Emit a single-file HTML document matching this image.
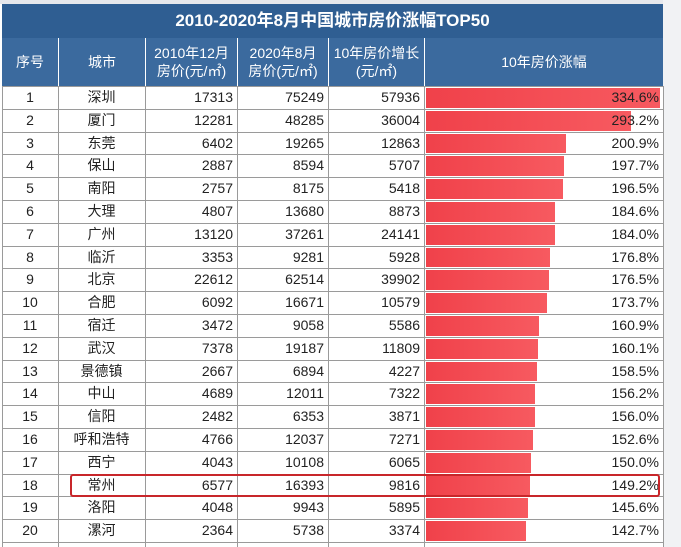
<!DOCTYPE html>
<html><head><meta charset="utf-8"><style>
body{margin:0;width:681px;height:547px;overflow:hidden;background:#fff;font-family:"Liberation Sans","Noto Sans CJK SC",sans-serif;position:relative}
.a{position:absolute;box-sizing:border-box}
.t{position:absolute;font-size:14px;color:#222;line-height:22px;white-space:nowrap}
</style></head><body>
<div class="a" style="left:0;top:0;width:681px;height:4px;background:#e6e8ec"></div>
<div class="a" style="left:663px;top:0;width:18px;height:547px;background:#f1f2f4"></div>
<div class="a" style="left:2px;top:4px;width:661px;height:34px;background:#2f5e92;color:#fff;font-size:17px;font-weight:bold;text-align:center;line-height:34px">2010-2020年8月中国城市房价涨幅TOP50</div>
<div id="hdr" class="a" style="left:2px;top:38px;width:661px;height:48px;background:#3b6a9e"></div>
<script>
const ranks=[1,2,3,4,5,6,7,8,9,10,11,12,13,14,15,16,17,18,19,20];
const cities=["深圳","厦门","东莞","保山","南阳","大理","广州","临沂","北京","合肥","宿迁","武汉","景德镇","中山","信阳","呼和浩特","西宁","常州","洛阳","漯河"];
const price2010=[17313,12281,6402,2887,2757,4807,13120,3353,22612,6092,3472,7378,2667,4689,2482,4766,4043,6577,4048,2364];
const price2020=[75249,48285,19265,8594,8175,13680,37261,9281,62514,16671,9058,19187,6894,12011,6353,12037,10108,16393,9943,5738];
const growth=[57936,36004,12863,5707,5418,8873,24141,5928,39902,10579,5586,11809,4227,7322,3871,7271,6065,9816,5895,3374];
const pct=[334.6,293.2,200.9,197.7,196.5,184.6,184.0,176.8,176.5,173.7,160.9,160.1,158.5,156.2,156.0,152.6,150.0,149.2,145.6,142.7];
const headers=["序号","城市","2010年12月<br>房价(元/㎡)","2020年8月<br>房价(元/㎡)","10年房价增长<br>(元/㎡)","10年房价涨幅"];
const cols=[2,58,145,237,328,424,663];
const top0=86,rh=22.8,barX=426,barMax=234,maxPct=334.6;
headers.forEach((h,i)=>{const d=document.createElement('div');d.className='a';


d.style.cssText=`left:${cols[i]}px;top:38px;width:${cols[i+1]-cols[i]}px;height:48px;color:#fff;font-size:14px;text-align:center;display:flex;align-items:center;justify-content:center;line-height:18px;${i>0?'border-left:1px solid #fff;':''}`;
d.innerHTML=h;document.body.appendChild(d);});
function add(cls,css,txt,name){const d=document.createElement('div');d.className=cls;d.style.cssText=css;if(txt!==undefined)d.textContent=txt;


document.body.appendChild(d);return d;}
for(let r=0;r<=20;r++){add('a',`left:2px;top:${top0+r*rh}px;width:661px;height:1px;background:#9a9a9a`,undefined,'row-line');}
for(let i=0;i<cols.length;i++){add('a',`left:${cols[i]}px;top:86px;width:1px;height:461px;background:#9a9a9a`,undefined,'col-line');}
ranks.forEach((rk,r)=>{const y=top0+r*rh;
const w=pct[r]/maxPct*barMax;
add('a',`left:${barX}px;top:${y+2}px;width:${w}px;height:${rh-3}px;background:linear-gradient(90deg,#f0414a,#f75a60)`,undefined,'growth-bar');
add('t',`left:${cols[0]}px;top:${y}px;width:${cols[1]-cols[0]}px;text-align:center`,rk,'rank-cell');
add('t',`left:${cols[1]}px;top:${y}px;width:${cols[2]-cols[1]}px;text-align:center`,cities[r],'city-cell');
add('t',`left:${cols[2]}px;top:${y}px;width:${cols[3]-cols[2]-4}px;text-align:right`,price2010[r],'price-2010-cell');
add('t',`left:${cols[3]}px;top:${y}px;width:${cols[4]-cols[3]-4}px;text-align:right`,price2020[r],'price-2020-cell');
add('t',`left:${cols[4]}px;top:${y}px;width:${cols[5]-cols[4]-4}px;text-align:right`,growth[r],'growth-cell');
add('t',`left:${cols[5]}px;top:${y}px;width:${cols[6]-cols[5]-4}px;text-align:right`,pct[r].toFixed(1)+'%','pct-cell');
});
add('a',`left:70px;top:${top0+17*rh}px;width:590px;height:${rh+1}px;border:2px solid #c8262a;border-radius:3px`,undefined,'highlight-box');
</script>
</body></html>
